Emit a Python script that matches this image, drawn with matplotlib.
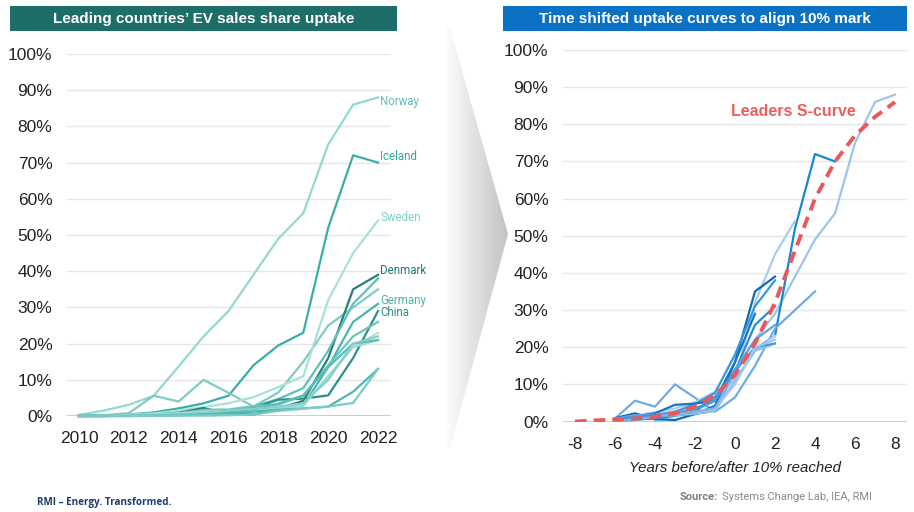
import numpy as np
import matplotlib.pyplot as plt
from matplotlib.patches import Polygon, Rectangle
from matplotlib.colors import LinearSegmentedColormap

plt.rcParams['font.family'] = ['Liberation Sans', 'DejaVu Sans']
plt.rcParams['axes.unicode_minus'] = False

# EV sales share (%) per country, 2010-2022
years = list(range(2010, 2023))
norway = [0.3, 1.5, 3.1, 5.6, 13.7, 22, 29, 39, 49, 56, 75, 86, 88]
iceland = [0.1, 0.2, 0.4, 1.0, 2.1, 3.5, 5.6, 14, 19.5, 23, 52, 72, 70]
netherlands = [0.1, 0.2, 0.8, 5.6, 4.0, 10, 6.4, 2.6, 6.5, 15, 25, 30, 35]
sweden = [0.0, 0.1, 0.4, 0.7, 1.5, 2.5, 3.5, 5.2, 8.0, 11, 32, 45, 54]
denmark = [0.0, 0.2, 0.3, 0.3, 0.9, 2.2, 0.6, 0.4, 2.0, 4.2, 16, 35, 39]
finland = [0.0, 0.0, 0.1, 0.3, 0.6, 1.0, 1.2, 2.6, 4.7, 7.7, 18, 31, 38]
germany = [0.0, 0.0, 0.1, 0.2, 0.4, 0.7, 0.7, 1.6, 2.0, 3.0, 13.5, 26, 31]
china = [0.0, 0.0, 0.1, 0.1, 0.3, 0.8, 1.4, 2.2, 4.5, 4.8, 5.7, 16, 29]
switzerland = [0.0, 0.0, 0.2, 0.4, 0.8, 1.7, 1.8, 2.7, 3.2, 5.6, 14, 22, 26]
uk = [0.0, 0.0, 0.1, 0.2, 0.6, 1.0, 1.4, 1.9, 2.5, 3.2, 11, 19, 23]
france = [0.0, 0.1, 0.3, 0.6, 0.7, 1.2, 1.4, 1.7, 2.1, 2.8, 11, 19, 21]
portugal = [0.0, 0.0, 0.0, 0.2, 0.3, 0.7, 1.3, 1.9, 3.4, 5.7, 13.5, 20, 21]
austria = [0.0, 0.0, 0.1, 0.2, 0.4, 0.7, 1.5, 2.0, 2.6, 3.5, 10, 20, 22]
new_zealand = [0.0, 0.0, 0.0, 0.1, 0.2, 0.4, 0.7, 1.2, 1.7, 2.1, 2.6, 6.7, 13]
korea = [0.0, 0.0, 0.0, 0.0, 0.1, 0.1, 0.2, 0.4, 1.4, 2.0, 2.6, 3.6, 13]

series = [norway, iceland, netherlands, sweden, denmark, finland, germany, china,
          switzerland, uk, france, portugal, austria, new_zealand, korea]

# year each country is placed at 0 on the time-shifted chart
zero_year = [2014, 2017, 2018, 2019, 2020, 2020, 2020, 2021,
             2020, 2020, 2020, 2020, 2020, 2022, 2022]

# leaders S-curve (%)
s_x = [-8, -7, -6, -5, -4, -3, -2, -1, 0, 1, 2, 3, 4, 5, 6, 7, 8]
s_y = [0.0, 0.3, 0.5, 0.8, 1.3, 2.2, 4.0, 7.0, 12.5, 21, 32, 46, 60, 70, 77, 82, 86]

labels = ["Norway", "Iceland", "Sweden", "Denmark", "Germany", "China"]
label_idx = [0, 1, 3, 4, 6, 7]
label_dy = [-1.0, 1.8, 0.7, 1.3, 0.8, -0.5]

teal = ['#93d8d1', '#3aaea6', '#7fcbc4', '#a8e1db', '#23807a', '#5fc0b8',
        '#49b7af', '#2a918b', '#6cc6be', '#b3e4df', '#9fdcd6', '#58bdb5',
        '#86cfc8', '#4db9b1', '#7ccbc4']
label_col = ['#5cc0b8', '#34a79f', '#7dd2ca', '#217c76', '#4db5ad', '#2b8f89']
blue = ['#9cc4ec', '#1a87d0', '#6fabe2', '#a9cdef', '#0e6cb6', '#3a96dc',
        '#2a8bd4', '#1577c4', '#5ea3e0', '#b6d5f2', '#8ebeea', '#4a9ade',
        '#a3c9ee', '#3e93da', '#7fb4e6']

fig = plt.figure(figsize=(9.14, 5.12), dpi=100)
W, H = 914, 512

# background layer in pixel coordinates: arrow and title banners
bg = fig.add_axes([0, 0, 1, 1], zorder=-5)
grad = np.linspace(0, 1, 256)[None, :]
cmap = LinearSegmentedColormap.from_list('arrow', ['#ffffff', '#c2c2c2'])
img = bg.imshow(grad, cmap=cmap, extent=(444, 508, 448, 28), aspect='auto')
arrow = Polygon([(444, 28), (450, 28), (508, 234), (450, 448), (444, 448)],
                closed=True, facecolor='none', edgecolor='none')
bg.add_patch(arrow)
img.set_clip_path(arrow)
bg.set_xlim(0, W)
bg.set_ylim(H, 0)
bg.axis('off')

bg.add_patch(Rectangle((10, 6), 387, 25, facecolor='#1d6d68', edgecolor='none'))
bg.add_patch(Rectangle((503, 6), 404, 25, facecolor='#0a71c4', edgecolor='none'))
bg.text(203.5, 18.5, "Leading countries\u2019 EV sales share uptake", color='white',
        fontsize=11, fontweight='bold', ha='center', va='center')
bg.text(705, 18.5, "Time shifted uptake curves to align 10% mark", color='white',
        fontsize=11, fontweight='bold', ha='center', va='center')


def style_axes(ax):
    for s in ax.spines.values():
        s.set_visible(False)
    ax.set_ylim(0, 100)
    ax.set_yticks(range(0, 101, 10))
    ax.set_yticklabels([f"{v}%" for v in range(0, 101, 10)])
    ax.yaxis.grid(True, color='#e6e6e6', lw=1)
    ax.axhline(0, color='#c6c6c6', lw=1.2, zorder=1)
    ax.set_axisbelow(True)
    ax.tick_params(length=0, labelsize=12.5, colors='#222222')
    ax.tick_params(axis='y', pad=10.5)
    ax.tick_params(axis='x', pad=11)


# left: raw uptake curves
ax1 = fig.add_axes([67 / W, (H - 416) / H, 324 / W, 362 / H])
style_axes(ax1)
ax1.set_xlim(2009.52, 2022.52)
ax1.set_xticks(range(2010, 2023, 2))
for vals, c in zip(series, teal):
    ax1.plot(years, vals, color=c, lw=1.6, clip_on=False)
for name, i, dy, c in zip(labels, label_idx, label_dy, label_col):
    ax1.text(2022.08, series[i][-1] + dy, name, color=c, fontsize=8.3,
             ha='left', va='center', family='Roboto')

# right: curves shifted so each country's 10% year sits at 0
ax2 = fig.add_axes([563 / W, (H - 421.5) / H, 344 / W, 371.5 / H])
style_axes(ax2)
ax2.set_xlim(-8.6, 8.6)
ax2.set_xticks(range(-8, 9, 2))
for vals, z, c in zip(series, zero_year, blue):
    xs = np.array(years) - z
    keep = xs >= -6
    ax2.plot(xs[keep], np.array(vals)[keep], color=c, lw=1.6)
s_line, = ax2.plot(s_x, s_y, color='#e9595b', lw=2.8, zorder=5)
s_line.set_dashes((3, 1.8))
ax2.text(2.9, 83.5, "Leaders S-curve", color='#e8605f', fontsize=11.5,
         fontweight='bold', ha='center', va='center')
ax2.set_xlabel("Years before/after 10% reached", fontsize=10.8, style='italic',
               color='#222222', labelpad=7)

# footer
fig.text(37 / W, 1 - 503 / H, "RMI \u2013 Energy. Transformed.", color='#1f3b6e',
         fontsize=7.1, fontweight='bold', family='Open Sans', va='center')
src = fig.text(680 / W, 1 - 497 / H, "Source:", color='#808080', fontsize=8,
               fontweight='bold', family='Roboto', va='center')
ax2.annotate("Systems Change Lab, IEA, RMI", xy=(1, 0.5), xycoords=src,
             xytext=(3, 0), textcoords='offset points', color='#8a8a8a',
             fontsize=8, family='Roboto', va='center', annotation_clip=False)

fig.savefig('out.png', dpi=100, facecolor='white')
